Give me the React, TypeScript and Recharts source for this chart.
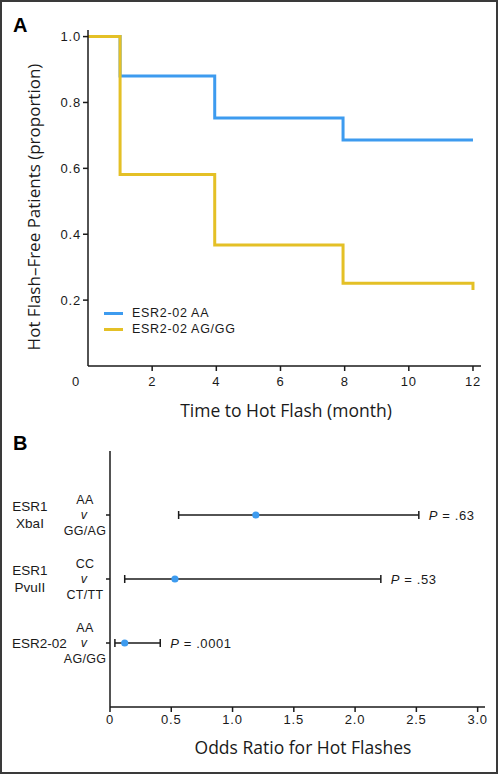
import React from 'react';
import {
  LineChart,
  Line,
  XAxis,
  YAxis,
  Legend,
  ScatterChart,
  Scatter,
  ErrorBar,
} from 'recharts';

// Panel A: Kaplan-Meier curves (proportion hot flash-free)
const kmMonthsAA = [0, 1, 3.95, 7.95, 12];
const kmFreeAA = [1.0, 0.88, 0.753, 0.686, 0.686];
const kmMonthsAG = [0, 1, 3.95, 7.95, 12, 12];
const kmFreeAG = [1.0, 0.581, 0.367, 0.251, 0.251, 0.231];
const monthTicks = [0, 2, 4, 6, 8, 10, 12];
const proportionTicks = [0.2, 0.4, 0.6, 0.8, 1.0];

// Panel B: odds ratios with 95% CI
const geneNames = ['ESR1', 'ESR1', 'ESR2-02'];
const enzymeNames = ['XbaI', 'PvuII', ''];
const refGenotypes = ['AA', 'CC', 'AA'];
const altGenotypes = ['GG/AG', 'CT/TT', 'AG/GG'];
const rowPositions = [3, 2, 1];
const oddsRatios = [1.19, 0.53, 0.12];
const ciLower = [0.56, 0.12, 0.04];
const ciUpper = [2.52, 2.21, 0.41];
const pValues = ['.63', '.53', '.0001'];
const oddsTicks = [0, 0.5, 1.0, 1.5, 2.0, 2.5, 3.0];

const BLUE = '#3d9bef';
const GOLD = '#e4c026';
const INK = '#1a1a1a';
const labelFont = '"Liberation Sans", Arial, sans-serif';
const titleFont = '"Open Sans", "Noto Sans", sans-serif';

const kmAA = kmMonthsAA.map((month, i) => ({ month, free: kmFreeAA[i] }));
const kmAG = kmMonthsAG.map((month, i) => ({ month, free: kmFreeAG[i] }));

const forestPoints = rowPositions.map((y, i) => ({
  x: oddsRatios[i],
  y,
  err: [oddsRatios[i] - ciLower[i], ciUpper[i] - oddsRatios[i]],
}));
const pPoints = rowPositions.map((y, i) => ({ x: ciUpper[i], y, p: pValues[i] }));

function MonthTick({ x, y, payload }: any) {
  const v = payload.value;
  return (
    <g>
      {v !== 0 && <line x1={x} x2={x} y1={y - 11} y2={y - 6} stroke={INK} strokeWidth={1.5} />}
      <text
        x={v === 0 ? x - 12 : x}
        y={y}
        dy="0.71em"
        textAnchor="middle"
        fontFamily={labelFont}
        fontSize={13}
        letterSpacing={0.8}
        fill={INK}
      >
        {v}
      </text>
    </g>
  );
}

function KmLegend({ payload }: any) {
  return (
    <div>
      {(payload || []).map((entry: any) => (
        <div key={entry.value} style={{ display: 'flex', alignItems: 'center', height: 16 }}>
          <span style={{ display: 'inline-block', width: 19, height: 3, background: entry.color, marginRight: 9 }} />
          <span style={{ fontFamily: labelFont, fontSize: 12.5, letterSpacing: 0.7, color: INK }}>{entry.value}</span>
        </div>
      ))}
    </div>
  );
}

function GenotypeTick({ y, payload }: any) {
  const i = rowPositions.indexOf(payload.value);
  if (i < 0) return null;
  const geneStyle = { fontFamily: labelFont, fontSize: 13.5, fill: INK };
  const genoStyle = { fontFamily: labelFont, fontSize: 12.5, fill: INK, letterSpacing: 0.3 };
  return (
    <g>
      {enzymeNames[i] ? (
        <>
          <text x={30} y={y - 8.5} dy="0.35em" textAnchor="middle" {...geneStyle}>{geneNames[i]}</text>
          <text x={30} y={y + 8} dy="0.35em" textAnchor="middle" {...geneStyle}>{enzymeNames[i]}</text>
        </>
      ) : (
        <text x={12} y={y} dy="0.35em" textAnchor="start" {...geneStyle}>{geneNames[i]}</text>
      )}
      <text x={85} y={y - 15} dy="0.35em" textAnchor="middle" {...genoStyle}>{refGenotypes[i]}</text>
      <text x={84} y={y} dy="0.35em" textAnchor="middle" fontStyle="italic" {...genoStyle}>v</text>
      <text x={85} y={y + 16} dy="0.35em" textAnchor="middle" {...genoStyle}>{altGenotypes[i]}</text>
    </g>
  );
}

const Dot = ({ cx, cy }: any) => <circle cx={cx} cy={cy} r={3.6} fill={BLUE} />;

const PText = ({ cx, cy, payload }: any) => (
  <text x={cx + 10} y={cy} dy="0.35em" fontFamily={labelFont} fontSize={13} letterSpacing={0.6} fill={INK}>
    <tspan fontStyle="italic">P</tspan> = {payload.p}
  </text>
);

export default function App() {
  return (
    <div style={{ position: 'absolute', left: 0, top: 0, width: 498, height: 774, background: '#fff' }}>
      <div
        style={{
          position: 'absolute',
          inset: 0,
          border: '2px solid #3a3a3a',
          boxSizing: 'border-box',
          pointerEvents: 'none',
        }}
      />
      <div style={{ position: 'absolute', left: 13, top: 15, font: `bold 20px/20px ${labelFont}`, color: '#000' }}>A</div>
      <div style={{ position: 'absolute', left: 13, top: 433, font: `bold 20px/20px ${labelFont}`, color: '#000' }}>B</div>

      <div style={{ position: 'absolute', left: 0, top: 0 }}>
        <LineChart width={498} height={430} margin={{ top: 30, right: 17, bottom: 34, left: 48 }}>
          <XAxis
            dataKey="month"
            type="number"
            domain={[0, 12.25]}
            ticks={monthTicks}
            allowDataOverflow
            height={30}
            stroke={INK}
            strokeWidth={1.5}
            tickSize={5}
            tickMargin={6}
            tickLine={false}
            tick={<MonthTick />}
            label={() => (
              <text x={286} y={417} textAnchor="middle" fontFamily={titleFont} fontSize={17.5} fill={INK}>
                Time to Hot Flash (month)
              </text>
            )}
          />
          <YAxis
            dataKey="free"
            type="number"
            domain={[0, 1.02]}
            ticks={proportionTicks}
            allowDataOverflow
            width={40}
            stroke={INK}
            strokeWidth={1.5}
            tickSize={5}
            tickMargin={2}
            tickFormatter={(v: number) => v.toFixed(1)}
            tick={{ fill: INK, fontFamily: labelFont, fontSize: 13, letterSpacing: 0.8 }}
            label={() => (
              <text
                x={33}
                y={207}
                transform="rotate(-90 33 207)"
                textAnchor="middle"
                dominantBaseline="central"
                fontFamily={titleFont}
                fontSize={17}
                fill={INK}
              >
                Hot Flash–Free Patients (proportion)
              </text>
            )}
          />
          <Legend
            layout="vertical"
            align="center"
            verticalAlign="middle"
            content={<KmLegend />}
            wrapperStyle={{ left: 104, top: 305, width: 200 }}
          />
          <Line
            data={kmAA}
            dataKey="free"
            name="ESR2-02 AA"
            type="stepAfter"
            stroke={BLUE}
            strokeWidth={3}
            dot={false}
            activeDot={false}
            isAnimationActive={false}
          />
          <Line
            data={kmAG}
            dataKey="free"
            name="ESR2-02 AG/GG"
            type="stepAfter"
            stroke={GOLD}
            strokeWidth={3}
            dot={false}
            activeDot={false}
            isAnimationActive={false}
          />
        </LineChart>
      </div>

      <div style={{ position: 'absolute', left: 0, top: 430 }}>
        <ScatterChart width={498} height={344} margin={{ top: 21, right: 13, bottom: 37, left: 2 }}>
          <XAxis
            dataKey="x"
            type="number"
            domain={[0, 3.06]}
            ticks={oddsTicks}
            allowDataOverflow
            height={30}
            stroke={INK}
            strokeWidth={1.5}
            tickSize={5}
            tickMargin={3}
            tickFormatter={(v: number) => (v === 0 ? '0' : v.toFixed(1))}
            tick={{ fill: INK, fontFamily: labelFont, fontSize: 13, letterSpacing: 0.8 }}
            label={() => (
              <text x={303} y={324} textAnchor="middle" fontFamily={titleFont} fontSize={17.5} fill={INK}>
                Odds Ratio for Hot Flashes
              </text>
            )}
          />
          <YAxis
            dataKey="y"
            type="number"
            domain={[0, 4]}
            ticks={rowPositions}
            width={108}
            stroke={INK}
            strokeWidth={1.5}
            tickSize={4}
            tick={<GenotypeTick />}
          />
          <Scatter data={forestPoints} shape={<Dot />} isAnimationActive={false} legendType="none">
            <ErrorBar dataKey="err" direction="x" width={4} stroke={INK} strokeWidth={1.5} isAnimationActive={false} />
          </Scatter>
          <Scatter data={pPoints} shape={<PText />} isAnimationActive={false} legendType="none" />
        </ScatterChart>
      </div>
    </div>
  );
}
